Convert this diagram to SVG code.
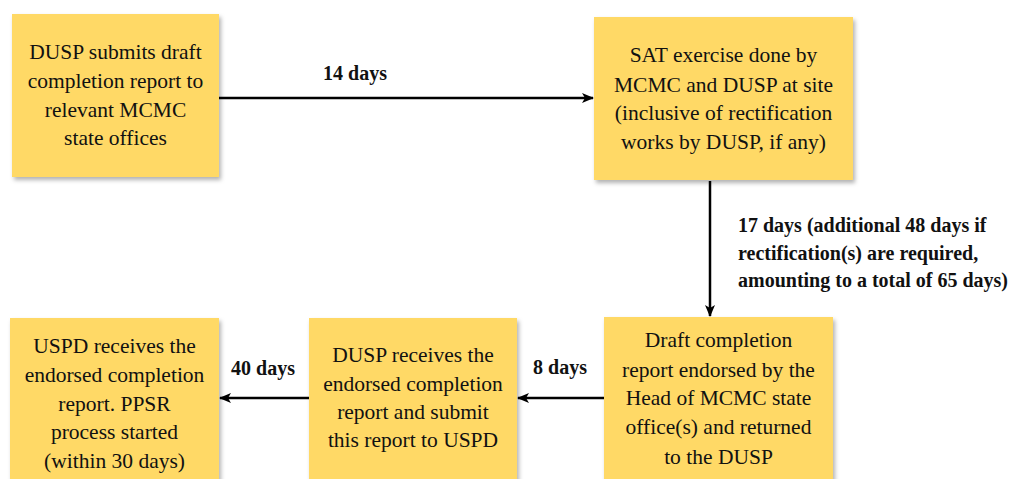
<svg xmlns="http://www.w3.org/2000/svg" width="1026" height="479" viewBox="0 0 1026 479">
<defs>
<filter id="sh" x="-10%" y="-10%" width="130%" height="130%">
<feDropShadow dx="2" dy="3" stdDeviation="2" flood-color="#000" flood-opacity="0.3"/>
</filter>
<marker id="ah" markerWidth="12" markerHeight="10" refX="11" refY="5" orient="auto" markerUnits="userSpaceOnUse">
<path d="M0,0 L12,5 L0,10 L3,5 Z" fill="#000"/>
</marker>
<style>
.box{fill:#FFD966;filter:url(#sh)}
.t{font-family:"Liberation Serif","Times New Roman",serif;font-size:21.5px;fill:#111;text-anchor:middle}
.l{font-family:"Liberation Serif","Times New Roman",serif;font-size:20px;font-weight:bold;fill:#111}
.c{stroke:#000;stroke-width:2.5;fill:none;marker-end:url(#ah)}
</style>
</defs>
<rect width="1026" height="479" fill="#fff"/>
<g id="connectors">
<line class="c" x1="219" y1="98" x2="593" y2="98"/>
<line class="c" x1="710" y1="181" x2="710" y2="316"/>
<line class="c" x1="604" y1="398" x2="518" y2="398"/>
<line class="c" x1="309" y1="398" x2="220" y2="398"/>
<text class="l" x="355" y="80" text-anchor="middle">14 days</text>
<text class="l" x="738" y="232">17 days (additional 48 days if</text>
<text class="l" x="738" y="260">rectification(s) are required,</text>
<text class="l" x="738" y="287">amounting to a total of 65 days)</text>
<text class="l" x="560" y="374" text-anchor="middle">8 days</text>
<text class="l" x="263" y="375" text-anchor="middle">40 days</text>
</g>
<g id="n1">
<rect class="box" x="12" y="14" width="207" height="163"/>
<text class="t" x="115.5" y="59">DUSP submits draft</text>
<text class="t" x="115.5" y="88">completion report to</text>
<text class="t" x="115.5" y="117">relevant MCMC</text>
<text class="t" x="115.5" y="145">state offices</text>
</g>
<g id="n2">
<rect class="box" x="594" y="17" width="259" height="163"/>
<text class="t" x="723.5" y="62">SAT exercise done by</text>
<text class="t" x="723.5" y="92">MCMC and DUSP at site</text>
<text class="t" x="723.5" y="120">(inclusive of rectification</text>
<text class="t" x="723.5" y="149">works by DUSP, if any)</text>
</g>
<g id="n3">
<rect class="box" x="604" y="317" width="229" height="170"/>
<text class="t" x="718.5" y="347">Draft completion</text>
<text class="t" x="718.5" y="377">report endorsed by the</text>
<text class="t" x="718.5" y="405">Head of MCMC state</text>
<text class="t" x="718.5" y="434">office(s) and returned</text>
<text class="t" x="718.5" y="464">to the DUSP</text>
</g>
<g id="n4">
<rect class="box" x="309" y="318" width="208" height="170"/>
<text class="t" x="413" y="362">DUSP receives the</text>
<text class="t" x="413" y="391">endorsed completion</text>
<text class="t" x="413" y="419">report and submit</text>
<text class="t" x="413" y="447">this report to USPD</text>
</g>
<g id="n5">
<rect class="box" x="10" y="318" width="209" height="170"/>
<text class="t" x="114.5" y="353">USPD receives the</text>
<text class="t" x="114.5" y="382">endorsed completion</text>
<text class="t" x="114.5" y="411">report. PPSR</text>
<text class="t" x="114.5" y="439">process started</text>
<text class="t" x="114.5" y="468">(within 30 days)</text>
</g>
</svg>
